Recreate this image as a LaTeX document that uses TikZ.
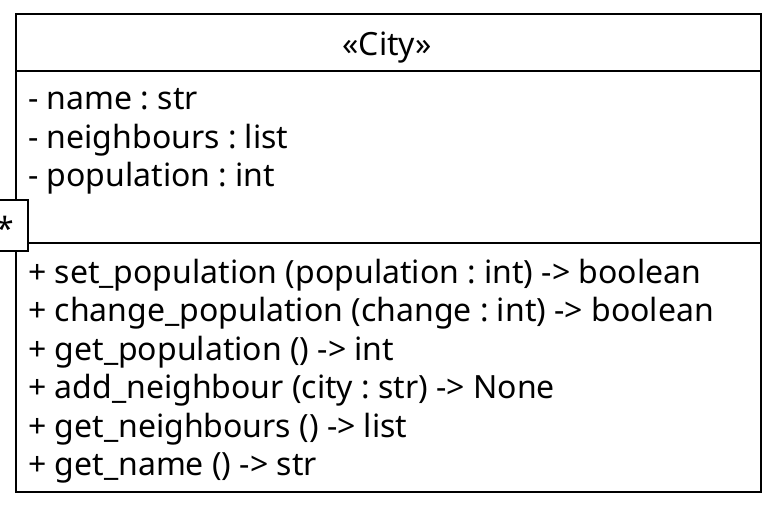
\documentclass[tikz,border=0pt]{standalone}
\usepackage{fontspec}
\setmainfont{Noto Sans}
\tikzset{
  member/.style={anchor=base west, inner sep=0pt, font=\fontsize{32}{38}\selectfont\frenchspacing},
  frame/.style={line width=1.6pt},
}
\begin{document}
\begin{tikzpicture}[x=1pt,y=-1pt]
  \def\rowgap{38.5}
  \useasboundingbox (0,0) rectangle (774,522);
  \fill[white] (0,0) rectangle (774,522);
  \node[draw, frame, anchor=north west, inner sep=0pt, minimum width=745pt, minimum height=478pt] (city) at (15,13) {};
  \coordinate (attrtop) at (15,71);
  \coordinate (optop) at (15,243);
  \draw[frame] (attrtop) -- (attrtop -| city.east);
  \draw[frame] (optop) -- (optop -| city.east);

  \node[member, anchor=base] (title) at (387,55) {«City»};

  \foreach \txt [count=\i] in {- name : str, - neighbours : list, - population : int} {
    \node[member] (attr\i) at (28, {71 + \rowgap * \i}) {\txt};
  }
  \foreach \txt [count=\i] in {
      + set\_population (population : int) -> boolean,
      + change\_population (change : int) -> boolean,
      + get\_population () -> int,
      + add\_neighbour (city : str) -> None,
      + get\_neighbours () -> list,
      + get\_name () -> str} {
    \node[member] (op\i) at (28, {244.5 + \rowgap * \i}) {\txt};
  }

  % multiplicity box on the left edge
  \node[draw, frame, fill=white, anchor=north east, inner sep=0pt, minimum width=47pt, minimum height=51pt] (mult) at (28.5,199) {};
  \node[member, anchor=base] (star) at (5,240) {*};
\end{tikzpicture}
\end{document}
